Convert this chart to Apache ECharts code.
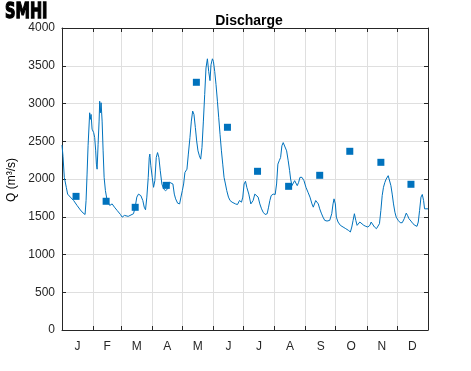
<!DOCTYPE html>
<html><head><meta charset="utf-8">
<script src="https://cdn.jsdelivr.net/npm/echarts@6/dist/echarts.min.js"></script>
<style>html,body{margin:0;padding:0;background:#fff}#c{width:471px;height:371px}</style>
</head><body><div id="c"></div>
<script>
const monthLabels = ['J','F','M','A','M','J','J','A','S','O','N','D'];
const monthStartDays = [0,31,59,90,120,151,181,212,243,273,304,334,365];
const monthMidDays = [15.5,45,74.5,105,135.5,166,196.5,227.5,258,288.5,319,349.5];
const yTicks = [0,500,1000,1500,2000,2500,3000,3500,4000];

const lineDays = [0,1,2.3,4.3,5.6,8.3,11.6,15,18.3,21,23,24,25,26,27.6,28.3,29,30,31.6,32.6,33.6,34.3,35,36,37,37.6,38.3,39,40,41,42,43.3,45,47.6,50,52.3,55,58.3,60,62.3,66,71.3,73,74.6,76.3,78.6,80.6,82,83.3,84.6,86,87,87.6,88.6,90,91.3,92.6,94,95.3,96.6,98,99.6,101.3,103.3,105.3,107.3,109,110.6,112,113.3,115.3,117.3,118.6,120,121.3,122.6,124.6,126,127.6,129,130.3,131.6,133,134.3,135.6,137,138.3,139.6,141,142.3,143.6,145,146.3,147.6,148.6,150,151,152.3,153.6,155,156.3,157.6,159,160.3,161.6,163,164.3,166,167.6,169.6,171,173,175,177,179,180.3,181.6,183,184.3,186.3,188.3,189,190.6,192.3,194,195.6,197.3,199,200.6,202.6,204.6,206,207.3,208.6,210.6,212.6,214,215.3,216.6,218,219.3,220.6,222.3,224,225.6,227,228,229.3,230.6,232,233.3,234.6,236,237.3,239.3,241.3,243.3,245.3,247.3,249.3,250.6,252,253,254.3,255.6,257,258.6,260.3,262,264.3,267,269,270.3,271.3,272.6,273.6,275.3,277.6,280.3,283,285.6,287.6,289,290.3,291.6,293,294.3,295.6,297,298.6,301,303,305,307,308.3,309.6,311.6,313.6,315.3,316.6,318,319.3,320.6,322,323.3,325.3,326.6,328,329.3,330.6,332,333.3,335.3,337.3,339.3,341.3,343.3,344.6,346,348,350,352,354,355.3,356.6,358,359.3,360.6,361.6,363.3,365];
const lineFlow = [2450,2300,2022,1890,1800,1760,1715,1650,1590,1550,1530,1715,2065,2440,2877,2790,2855,2660,2614,2548,2373,2197,2130,2460,2767,3030,2877,3010,2767,2373,2022,1846,1715,1650,1670,1627,1583,1530,1495,1518,1505,1540,1627,1760,1800,1780,1715,1627,1592,1760,2022,2285,2330,2175,2022,1890,1978,2285,2350,2285,2110,1934,1868,1846,1868,1956,1978,1934,1800,1737,1680,1670,1760,1846,1934,2087,2130,2330,2548,2767,2900,2855,2680,2504,2373,2307,2263,2417,2767,3118,3470,3592,3425,3303,3513,3592,3557,3425,3250,3030,2811,2592,2373,2197,2022,1934,1846,1760,1715,1693,1715,1670,1662,1715,1693,1760,1934,1970,1890,1800,1670,1670,1715,1800,1825,1760,1670,1605,1560,1530,1540,1627,1715,1780,1800,1795,1934,2197,2241,2285,2440,2482,2460,2373,2241,2110,2000,1912,1934,1978,1956,1912,1956,2022,2022,1978,1890,1825,1760,1670,1627,1627,1715,1737,1670,1605,1548,1495,1452,1443,1452,1540,1670,1737,1670,1495,1430,1386,1364,1342,1320,1298,1364,1452,1540,1452,1386,1408,1430,1408,1386,1373,1364,1386,1430,1408,1364,1342,1320,1408,1583,1780,1890,1956,2000,2044,2022,1912,1800,1670,1560,1495,1452,1421,1421,1474,1548,1518,1474,1443,1408,1386,1373,1430,1583,1760,1795,1715,1605,1583,1605];

const monthDays = [14,44,73,104,134,165,195,226,257,287,318,348];
const monthFlow = [1770,1705,1625,1916,3281,2685,2102,1903,2049,2367,2221,1930];

const lineData = lineDays.map((d,i)=>[d,lineFlow[i]]);
const sqData = monthDays.map((d,i)=>[d,monthFlow[i]]);
const labelMap = {};
monthMidDays.forEach((d,i)=>{labelMap[d]=monthLabels[i];});

const axCol = '#262626';
const font = 'Liberation Sans, Arial, sans-serif';
const axLine = {show:true,onZero:false,lineStyle:{color:axCol,width:1}};
const tick = {show:true,inside:true,length:4,lineStyle:{color:axCol,width:1}};
const chart = echarts.init(document.getElementById('c'), null, {renderer:'canvas'});
chart.setOption({
  animation:false,
  backgroundColor:'#fff',
  title:{text:'Discharge',left:244,top:9,textAlign:'center',textStyle:{fontFamily:font,fontSize:14,fontWeight:'bold',color:'#000'}},
  graphic:[
    {type:'text',x:5,y:12,scaleX:0.66,style:{text:'SMHI',fontFamily:'DejaVu Sans',fontWeight:'bold',fontSize:22,fill:'#000',stroke:'#000',lineWidth:1.4,verticalAlign:'middle',align:'left'}},
    {type:'text',x:12,y:180,rotation:Math.PI/2,style:{text:'Q (m³/s)',fontFamily:font,fontSize:12,fill:'#000',align:'center',verticalAlign:'middle'}}
  ],
  grid:{left:62,right:43,top:28,bottom:41,containLabel:false},
  xAxis:[
    {type:'value',min:0,max:365,position:'bottom',
     axisLine:axLine,
     axisTick:Object.assign({customValues:monthStartDays},tick),
     axisLabel:{show:true,customValues:monthMidDays,formatter:v=>labelMap[v]||'',color:axCol,fontFamily:font,fontSize:12,margin:11},
     splitLine:{show:true,lineStyle:{color:'#dfdfdf',width:1}}},
    {type:'value',min:0,max:365,position:'top',
     axisLine:axLine,
     axisTick:Object.assign({customValues:monthStartDays},tick),
     axisLabel:{show:false},splitLine:{show:false}}
  ],
  yAxis:[
    {type:'value',min:0,max:4000,interval:500,position:'left',
     axisLine:axLine,
     axisTick:tick,
     axisLabel:{color:axCol,fontFamily:font,fontSize:12,margin:7,formatter:v=>String(v)},
     splitLine:{show:true,lineStyle:{color:'#dfdfdf',width:1}}},
    {type:'value',min:0,max:4000,interval:500,position:'right',
     axisLine:axLine,
     axisTick:tick,
     axisLabel:{show:false},splitLine:{show:false}}
  ],
  series:[
    {type:'line',data:lineData,xAxisIndex:0,yAxisIndex:0,showSymbol:false,symbol:'none',
     lineStyle:{color:'#0072BD',width:1},z:2},
    {type:'scatter',data:sqData,xAxisIndex:0,yAxisIndex:0,symbol:'rect',symbolSize:7,
     itemStyle:{color:'#0072BD',opacity:1},z:3}
  ]
});
</script></body></html>
